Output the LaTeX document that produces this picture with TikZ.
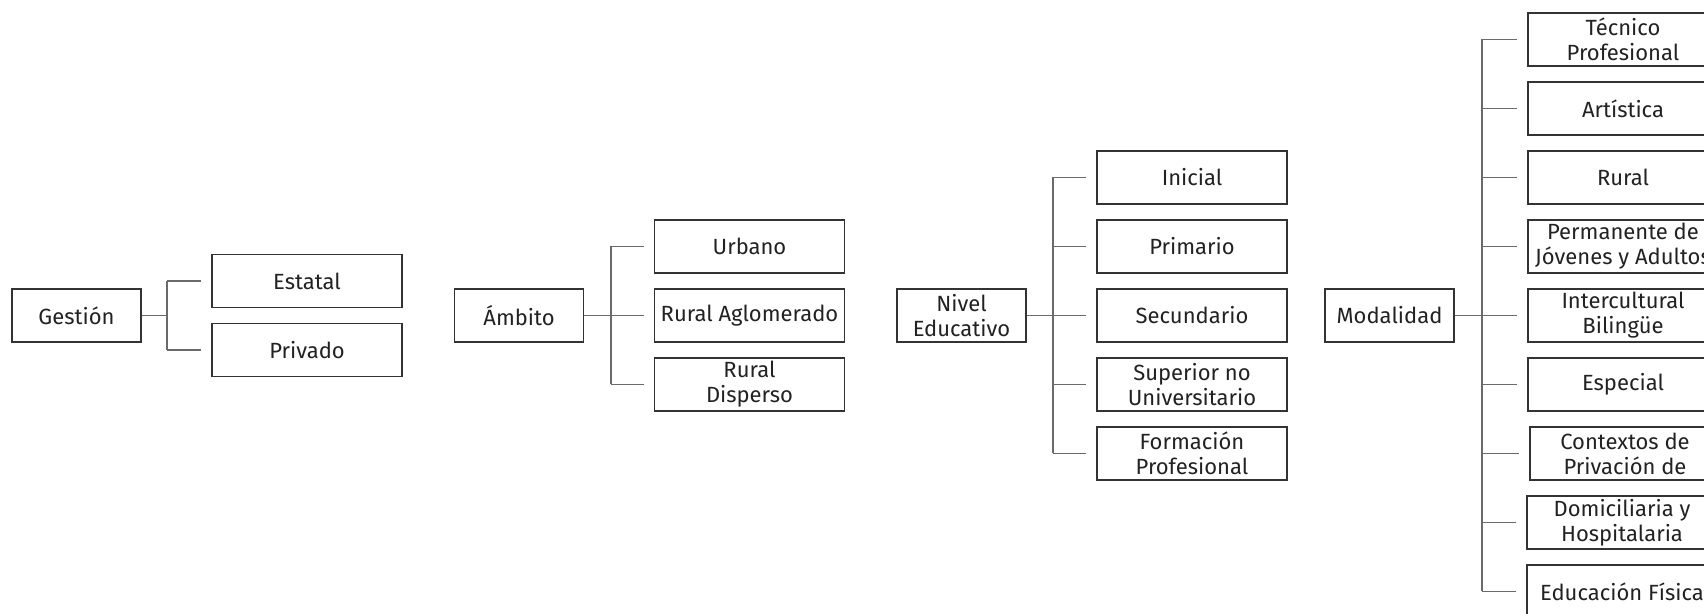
\documentclass[tikz,border=0pt]{standalone}
\usepackage{fontspec}
\setmainfont{Fira Sans}
\definecolor{boxline}{HTML}{333333}
\definecolor{connline}{HTML}{6A6A6A}
\definecolor{txt}{HTML}{222222}
\begin{document}
\begin{tikzpicture}[x=0.5pt,y=-0.5pt,
  box/.style={draw=boxline, line width=0.6pt, text=txt, align=center, inner sep=0pt,
    minimum height=26.5pt, font=\fontsize{11}{12.5}\selectfont},
  parent/.style={box, minimum width=64.5pt},
  child/.style={box, minimum width=95pt},
  conn/.style={draw=connline, line width=0.6pt},
  branch/.style={conn, shorten >=5pt}]
\useasboundingbox (0,0) rectangle (1704,614);
\fill[white] (0,0) rectangle (1704,614);

% Gestion
\node[parent] (g) at (76.5,315.5) {Gestión};
\node[child] (g1) at (307,281) {Estatal};
\node[child] (g2) at (307,350) {Privado};
\coordinate (gt) at (167,315.5);
\draw[conn] (g.east) -- (gt);
\draw[conn] (gt |- g1.west) -- (gt |- g2.west);
\foreach \c in {g1,g2} \draw[branch] (gt |- \c.west) -- (\c.west);

% Ambito
\node[parent] (a) at (519,315.5) {Ámbito};
\node[child] (a1) at (749.5,246.5) {Urbano};
\node[child] (a2) at (749.5,315.5) {Rural Aglomerado};
\node[child] (a3) at (749.5,384.5) {Rural\\Disperso};
\coordinate (at) at (611,315.5);
\draw[conn] (a.east) -- (at);
\draw[conn] (at |- a1.west) -- (at |- a3.west);
\foreach \c in {a1,a2,a3} \draw[branch] (at |- \c.west) -- (\c.west);

% Nivel
\node[parent] (n) at (961.5,315.5) {Nivel\\Educativo};
\node[child] (n1) at (1192,177.5) {Inicial};
\node[child] (n2) at (1192,246.5) {Primario};
\node[child] (n3) at (1192,315.5) {Secundario};
\node[child] (n4) at (1192,384.5) {Superior no\\Universitario};
\node[child] (n5) at (1192,453.5) {Formación\\Profesional};
\coordinate (nt) at (1053,315.5);
\draw[conn] (n.east) -- (nt);
\draw[conn] (nt |- n1.west) -- (nt |- n5.west);
\foreach \c in {n1,n2,n3,n4,n5} \draw[branch] (nt |- \c.west) -- (\c.west);

% Modalidad
\node[parent] (m) at (1389.5,315.5) {Modalidad};
\node[child] (m1) at (1623,39.5) {Técnico\\Profesional};
\node[child] (m2) at (1623,108.5) {Artística};
\node[child] (m3) at (1623,177.5) {Rural};
\node[child] (m4) at (1623,246.5) {Permanente de\\Jóvenes y Adultos};
\node[child] (m5) at (1623,315.5) {Intercultural\\Bilingüe};
\node[child] (m6) at (1623,384.5) {Especial};
\node[child] (m7) at (1625,453.5) {Contextos de\\Privación de};
\node[child] (m8) at (1622,522.5) {Domiciliaria y\\Hospitalaria};
\node[child] (m9) at (1622,591.5) {Educación Física};
\coordinate (mt) at (1482,315.5);
\draw[conn] (m.east) -- (mt);
\draw[conn] (mt |- m1.west) -- (mt |- m9.west);
\foreach \c in {m1,m2,m3,m4,m5,m6,m7,m8,m9} \draw[branch] (mt |- \c.west) -- (\c.west);
\end{tikzpicture}
\end{document}
